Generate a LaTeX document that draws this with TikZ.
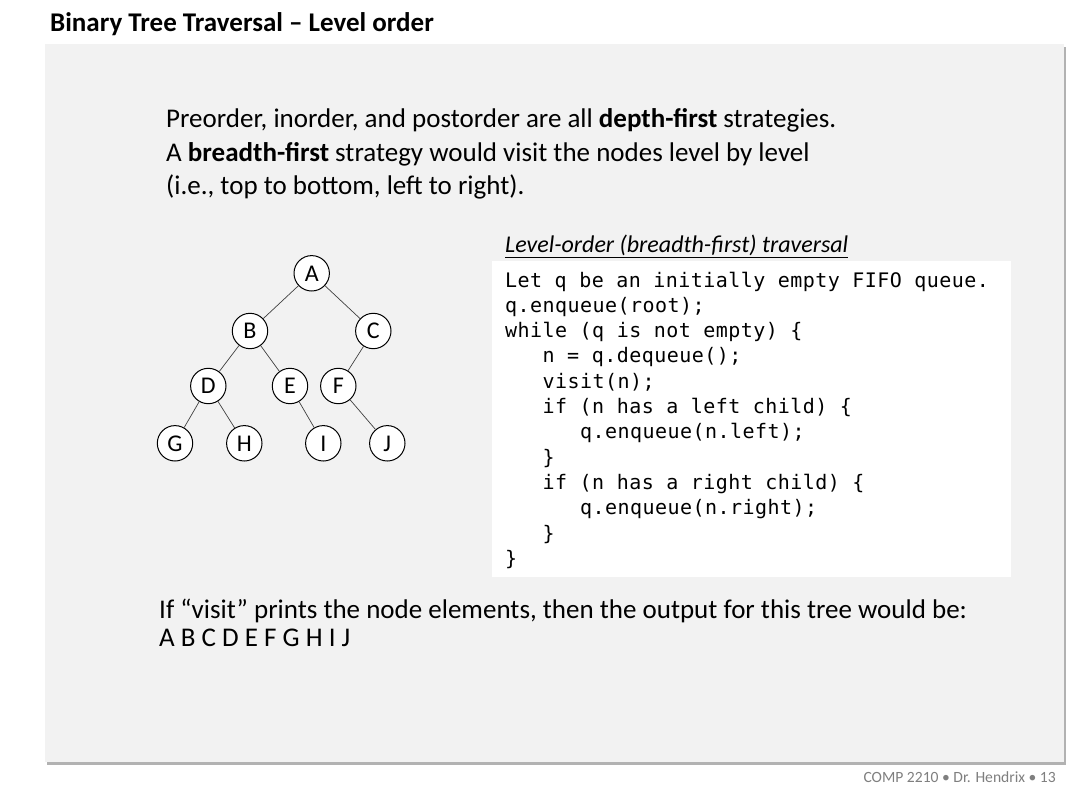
\documentclass[tikz,border=0pt]{standalone}
\usepackage{fontspec}
\setmainfont{Carlito}
\newfontfamily\codefont[LetterSpace=2.3]{DejaVu Sans Mono}
\usepackage{tikz}

\definecolor{panelgray}{HTML}{F2F2F2}
\definecolor{footgray}{HTML}{7F7F7F}

\begin{document}
\begin{tikzpicture}[x=1pt,y=-1pt,
	vertex/.style={circle,draw,line width=1pt,fill=white,minimum size=35.4pt,inner sep=0pt,text height=15.5pt,text depth=0pt,font=\fontsize{24}{24}\selectfont},
	edge/.style={black!75,line width=0.7pt},
	body/.style={anchor=base west,inner sep=0pt,font=\fontsize{27}{30}\selectfont},
	code/.style={anchor=base west,inner sep=0pt,font=\codefont\fontsize{20}{22}\selectfont}]
\useasboundingbox[fill=white] (0,0) rectangle (1083,805);
% slide panel
\fill[black!30] (47,47) rectangle (1066,765);
\fill[panelgray] (45,44) rectangle (1064,762);
\node[anchor=base west,inner sep=0pt,font=\fontsize{27}{27}\selectfont\bfseries] (title) at (50,32) {Binary Tree Traversal -- Level order};
% intro text
\node[body] (pre1) at (166,128) {Preorder, inorder, and postorder are all \textbf{depth-first} strategies.};
\node[body] (pre2) at (166,161) {A \textbf{breadth-first} strategy would visit the nodes level by level};
\node[body] (pre3) at (166,194) {(i.e., top to bottom, left to right).};
% tree
\node[vertex] (A) at (311.7,273.3) {A};
\node[vertex] (B) at (250,331) {B};
\node[vertex] (C) at (373.3,331) {C};
\node[vertex] (D) at (208.3,386) {D};
\node[vertex] (E) at (290,386) {E};
\node[vertex] (F) at (338.3,386) {F};
\node[vertex] (G) at (175,443.3) {G};
\node[vertex] (H) at (244.3,443.3) {H};
\node[vertex] (I) at (323.3,443.3) {I};
\node[vertex] (J) at (387.3,443.3) {J};
\draw[edge] (A) -- (B);
\draw[edge] (A) -- (C);
\draw[edge] (B) -- (D);
\draw[edge] (B) -- (E);
\draw[edge] (C) -- (F);
\draw[edge] (D) -- (G);
\draw[edge] (D) -- (H);
\draw[edge] (E) -- (I);
\draw[edge] (F) -- (J);
% pseudocode
\node[anchor=base west,inner sep=0pt,font=\fontsize{24}{24}\selectfont\itshape] (caption) at (505,252) {\underline{Level-order (breadth-first) traversal}};
\fill[white] (492,261) rectangle (1011,577);
\node[code] (c1) at (505,287) {Let q be an initially empty FIFO queue.};
\node[code] (c2) at (505,312.3) {q.enqueue(root);};
\node[code] (c3) at (505,337.6) {while (q is not empty) \{};
\node[code] (c4) at (542.5,362.9) {n = q.dequeue();};
\node[code] (c5) at (542.5,388.2) {visit(n);};
\node[code] (c6) at (542.5,413.5) {if (n has a left child) \{};
\node[code] (c7) at (580,438.8) {q.enqueue(n.left);};
\node[code] (c8) at (542.5,464.1) {\}};
\node[code] (c9) at (542.5,489.4) {if (n has a right child) \{};
\node[code] (c10) at (580,514.7) {q.enqueue(n.right);};
\node[code] (c11) at (542.5,540) {\}};
\node[code] (c12) at (505,565.3) {\}};
% output
\node[body] (out1) at (159,618) {If “visit” prints the node elements, then the output for this tree would be:};
\node[body] (out2) at (159,646) {A B C D E F G H I J};
% footer
\node[anchor=base east,inner sep=0pt,text=footgray,font=\fontsize{15.6}{15.6}\selectfont] (footer) at (1056,782) {COMP 2210 • Dr. Hendrix • 13};
\end{tikzpicture}
\end{document}
